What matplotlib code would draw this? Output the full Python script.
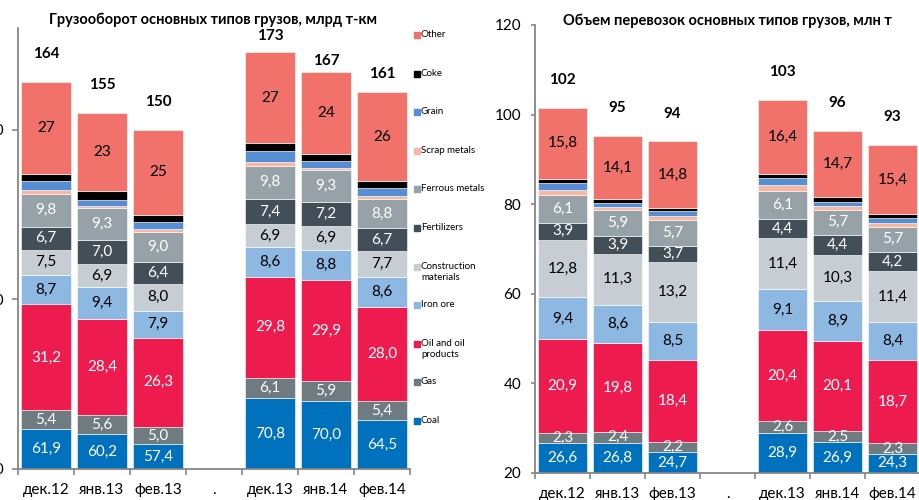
import matplotlib
matplotlib.use('Agg')
import matplotlib.pyplot as plt
from matplotlib.patches import Rectangle
import numpy as np

plt.rcParams['font.family'] = ['Lato', 'Open Sans', 'DejaVu Sans']

# categories (the '.' slot is an empty gap between years)
months = ['дек.12', 'янв.13', 'фев.13', '.', 'дек.13', 'янв.14', 'фев.14']
series = ['Coal', 'Gas', 'Oil and oil\nproducts', 'Iron ore', 'Construction\nmaterials',
          'Fertilizers', 'Ferrous metals', 'Scrap metals', 'Grain', 'Coke', 'Other']

# freight turnover, bn t-km (left)
turn_coal = [61.9, 60.2, 57.4, 0, 70.8, 70.0, 64.5]
turn_gas = [5.4, 5.6, 5.0, 0, 6.1, 5.9, 5.4]
turn_oil = [31.2, 28.4, 26.3, 0, 29.8, 29.9, 28.0]
turn_iron = [8.7, 9.4, 7.9, 0, 8.6, 8.8, 8.6]
turn_constr = [7.5, 6.9, 8.0, 0, 6.9, 6.9, 7.7]
turn_fert = [6.7, 7.0, 6.4, 0, 7.4, 7.2, 6.7]
turn_ferrous = [9.8, 9.3, 9.0, 0, 9.8, 9.3, 8.8]
turn_scrap = [1.0, 0.7, 0.7, 0, 1.1, 0.7, 0.7]
turn_grain = [2.6, 1.9, 2.1, 0, 3.2, 2.0, 2.5]
turn_coke = [2.2, 2.6, 2.2, 0, 2.3, 2.3, 2.1]
turn_other = [27, 23, 25, 0, 27, 24, 26]
turn_total = [164, 155, 150, None, 173, 167, 161]

# shipments volume, mln t (right)
vol_coal = [26.6, 26.8, 24.7, 0, 28.9, 26.9, 24.3]
vol_gas = [2.3, 2.4, 2.2, 0, 2.6, 2.5, 2.3]
vol_oil = [20.9, 19.8, 18.4, 0, 20.4, 20.1, 18.7]
vol_iron = [9.4, 8.6, 8.5, 0, 9.1, 8.9, 8.4]
vol_constr = [12.8, 11.3, 13.2, 0, 11.4, 10.3, 11.4]
vol_fert = [3.9, 3.9, 3.7, 0, 4.4, 4.4, 4.2]
vol_ferrous = [6.1, 5.9, 5.7, 0, 6.1, 5.7, 5.7]
vol_scrap = [1.1, 0.7, 1.0, 0, 1.3, 0.8, 0.7]
vol_grain = [1.6, 0.8, 1.0, 0, 1.7, 1.0, 1.3]
vol_coke = [1.0, 0.9, 0.8, 0, 0.9, 1.0, 0.8]
vol_other = [15.8, 14.1, 14.8, 0, 16.4, 14.7, 15.4]
vol_total = [102, 95, 94, None, 103, 96, 93]

colors = ['#0071BC', '#6E7B81', '#EE1B4F', '#8DB8E2', '#C6CED4',
          '#434F58', '#97A2A8', '#F7B7A3', '#558ED5', '#000000', '#F1716B']
txt_col = ['white', 'white', 'white', 'black', 'black',
           'white', 'white', None, None, None, 'black']
# which series carry a value label
labelled = [True, True, True, True, True, True, True, False, False, False, True]


def stacked(ax, data, totals, ymin, ymax, ticks, total_pad, int_other):
    x = np.arange(len(months))
    bottom = np.zeros(len(months))
    for i, vals in enumerate(data):
        vals = np.array(vals, dtype=float)
        ax.bar(x, vals, 0.9, bottom=bottom, color=colors[i],
               edgecolor='white', linewidth=0.4, zorder=2)
        if labelled[i]:
            for k, v in enumerate(vals):
                if v <= 0:
                    continue
                mid = bottom[k] + v / 2
                if mid < ymin:
                    mid = (max(bottom[k], ymin) + bottom[k] + v) / 2
                if i == 10 and int_other:
                    s = '%d' % v
                else:
                    s = ('%.1f' % v).replace('.', ',')
                ax.text(x[k], mid, s, ha='center', va='center', fontsize=11,
                        color=txt_col[i], zorder=3)
        bottom += vals
    for k, t in enumerate(totals):
        if t is None:
            continue
        ax.annotate('%d' % t, (x[k], bottom[k]), xytext=(0, total_pad[k]),
                    textcoords='offset points', ha='center', va='center',
                    fontsize=11, fontweight='bold', annotation_clip=False)
    ax.set_xlim(-0.5, len(months) - 0.5)
    ax.set_ylim(ymin, ymax)
    ax.set_yticks(ticks)
    ax.set_yticklabels([str(t) for t in ticks], fontsize=11)
    ax.set_xticks(x)
    ax.set_xticklabels(months, fontsize=11)
    ax.set_xticks(np.arange(-0.5, len(months)), minor=True)
    ax.tick_params(axis='x', which='major', length=0, pad=10)
    ax.tick_params(axis='x', which='minor', length=4, color='#868686', width=1.2)
    for s in ['top', 'right']:
        ax.spines[s].set_visible(False)
    for s in ['left', 'bottom']:
        ax.spines[s].set_color('#868686')
        ax.spines[s].set_linewidth(1.3)


fig = plt.figure(figsize=(9.2, 5), dpi=100)

ax1 = fig.add_axes([18 / 920, 31 / 500, 392 / 920, 441 / 500])
stacked(ax1, [turn_coal, turn_gas, turn_oil, turn_iron, turn_constr, turn_fert,
              turn_ferrous, turn_scrap, turn_grain, turn_coke, turn_other],
        turn_total, 50, 180, [50, 100, 150], [20, 20, 20, 0, 11, 8, 13], True)
ax1.tick_params(axis='y', length=4, color='#868686', width=1.2, pad=6)

ax2 = fig.add_axes([535 / 920, 27 / 500, 385 / 920, 448 / 500])
stacked(ax2, [vol_coal, vol_gas, vol_oil, vol_iron, vol_constr, vol_fert,
              vol_ferrous, vol_scrap, vol_grain, vol_coke, vol_other],
        vol_total, 20, 120, [20, 40, 60, 80, 100, 120], [20] * 7, False)
ax2.tick_params(axis='y', length=3, color='#868686', width=1.2, pad=7)

fig.text(213 / 920, 1 - 20 / 500, 'Грузооборот основных типов грузов, млрд т-км',
         ha='center', va='center', fontsize=10.5, fontweight='bold')
fig.text(727 / 920, 1 - 21 / 500, 'Объем перевозок основных типов грузов, млн т',
         ha='center', va='center', fontsize=10.5, fontweight='bold')

# legend drawn by hand: entries top-aligned, fixed step
for j, i in enumerate(range(len(series) - 1, -1, -1)):
    yc = 35 + j * 38.6
    fig.add_artist(Rectangle((414 / 920, 1 - (yc + 3) / 500), 6 / 920, 6 / 500,
                             transform=fig.transFigure, color=colors[i]))
    fig.text(421 / 920, 1 - (yc - 5) / 500, series[i], ha='left', va='top',
             fontsize=7, linespacing=1.3)

fig.savefig('out.png', dpi=100)
